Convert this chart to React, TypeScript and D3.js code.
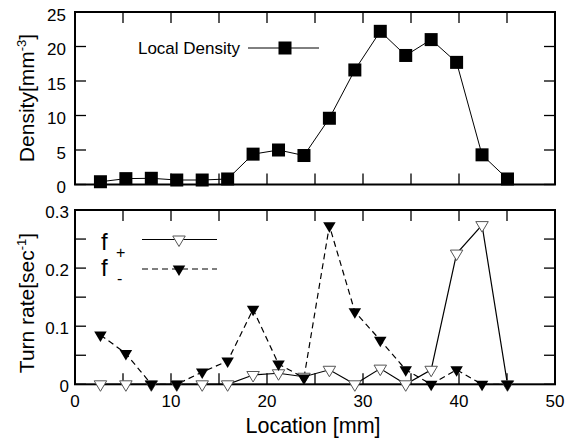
import React from "react";
import * as d3 from "d3";

// Sampling positions along the channel (mm)
const locations = [2.65, 5.3, 7.95, 10.6, 13.25, 15.9, 18.55, 21.2, 23.85, 26.5, 29.15, 31.8, 34.45, 37.1, 39.75, 42.4, 45.05];
// Local density (mm^-3)
const density = [0.4, 0.85, 0.9, 0.65, 0.65, 0.8, 4.4, 5.0, 4.2, 9.6, 16.6, 22.2, 18.7, 21.0, 17.7, 4.3, 0.8];
// Turn rates (sec^-1)
const fPlus = [0, 0, 0, 0, 0, 0, 0.016, 0.019, 0.013, 0.025, 0, 0.027, 0, 0.025, 0.225, 0.274, 0];
const fMinus = [0.085, 0.053, 0, 0, 0.021, 0.04, 0.129, 0.035, 0.011, 0.273, 0.125, 0.076, 0.025, 0, 0.025, 0, 0];

const xTicks = [0, 5, 10, 15, 20, 25, 30, 35, 40, 45, 50];
const xLabels = [0, 10, 20, 30, 40, 50];
const densityTicks = [0, 5, 10, 15, 20, 25];
const rateTicks = [0, 0.05, 0.1, 0.15, 0.2, 0.25, 0.3];
const rateLabels = [0, 0.1, 0.2, 0.3];

const FONT = "'Liberation Sans', Arial, Helvetica, sans-serif";

const x = d3.scaleLinear().domain([0, 50]).range([75, 555]);
const yTop = d3.scaleLinear().domain([0, 25]).range([184.5, 12]);
const yBot = d3.scaleLinear().domain([0, 0.3]).range([384.3, 210]);

const TICK = 11;

function Frame({ y, yTicks }: { y: d3.ScaleLinear<number, number>; yTicks: number[] }) {
  const [y0, y1] = y.range();
  const [x0, x1] = x.range();
  return (
    <g stroke="#000" fill="none">
      {xTicks.map((t) => (
        <g key={"x" + t}>
          <line x1={x(t)} x2={x(t)} y1={y0} y2={y0 - TICK} strokeWidth={1.3} />
          <line x1={x(t)} x2={x(t)} y1={y1} y2={y1 + TICK} strokeWidth={1.3} />
        </g>
      ))}
      {yTicks.map((t) => (
        <g key={"y" + t}>
          <line x1={x0} x2={x0 + TICK} y1={y(t)} y2={y(t)} strokeWidth={1.3} />
          <line x1={x1} x2={x1 - TICK} y1={y(t)} y2={y(t)} strokeWidth={1.3} />
        </g>
      ))}
      <rect x={x0} y={y1} width={x1 - x0} height={y0 - y1} strokeWidth={2} />
    </g>
  );
}

// Triangle pointing down, centred on its centroid
function triDown(cx: number, cy: number, w = 12.5, h = 10.5) {
  const top = cy - h / 3;
  const tip = cy + (2 * h) / 3;
  return `M${cx - w / 2},${top}L${cx + w / 2},${top}L${cx},${tip}Z`;
}

export default function App() {
  const densLine = d3
    .line<number>()
    .x((_, i) => x(locations[i]))
    .y((d) => yTop(d));
  const rateLine = d3
    .line<number>()
    .x((_, i) => x(locations[i]))
    .y((d) => yBot(d));

  const sq = 13;

  return (
    <svg
      width={571}
      height={442}
      style={{ position: "absolute", left: 0, top: 0, background: "#fff" }}
      fontFamily={FONT}
    >
      <rect width={571} height={442} fill="#fff" />

      {/* Upper panel: density */}
      <Frame y={yTop} yTicks={densityTicks} />
      {densityTicks.map((t) => (
        <text key={t} x={66} y={yTop(t) + 8.5} textAnchor="end" fontSize={17}>
          {t}
        </text>
      ))}
      <path d={densLine(density) || ""} fill="none" stroke="#000" strokeWidth={1} />
      {density.map((d, i) => (
        <rect key={i} x={x(locations[i]) - sq / 2} y={yTop(d) - sq / 2} width={sq} height={sq} fill="#000" />
      ))}
      <text x={240} y={54} textAnchor="end" fontSize={17}>
        Local Density
      </text>
      <line x1={248} x2={319} y1={48} y2={48} stroke="#000" strokeWidth={1} />
      <rect x={285 - sq / 2} y={48 - sq / 2} width={sq} height={sq} fill="#000" />
      <text transform="translate(34,98) rotate(-90)" textAnchor="middle" fontSize={21}>
        Density[mm
        <tspan fontSize={13} dy={-8}>-3</tspan>
        <tspan dy={8}>]</tspan>
      </text>

      {/* Lower panel: turn rates */}
      <Frame y={yBot} yTicks={rateTicks} />
      {rateLabels.map((t) => (
        <text key={t} x={69} y={yBot(t) + 8} textAnchor="end" fontSize={17}>
          {t}
        </text>
      ))}
      {xLabels.map((t) => (
        <text key={t} x={x(t)} y={407} textAnchor="middle" fontSize={17}>
          {t}
        </text>
      ))}
      <text x={313} y={433} textAnchor="middle" fontSize={21.5}>
        Location [mm]
      </text>
      <text transform="translate(34,303) rotate(-90)" textAnchor="middle" fontSize={21}>
        Turn rate[sec
        <tspan fontSize={13} dy={-8}>-1</tspan>
        <tspan dy={8}>]</tspan>
      </text>

      <path d={rateLine(fMinus) || ""} fill="none" stroke="#000" strokeWidth={1.2} strokeDasharray="6,4" />
      <path d={rateLine(fPlus) || ""} fill="none" stroke="#000" strokeWidth={1.2} />
      {fPlus.map((d, i) => (
        <path key={"p" + i} d={triDown(x(locations[i]), yBot(d))} fill="#fff" stroke="#555" strokeWidth={1} />
      ))}
      {fMinus.map((d, i) => (
        <path key={"m" + i} d={triDown(x(locations[i]), yBot(d))} fill="#000" />
      ))}

      {/* Legend */}
      <text x={101} y={250} fontSize={24}>f</text>
      <text x={116} y={258} fontSize={16}>+</text>
      <line x1={142} x2={217} y1={239.5} y2={239.5} stroke="#000" strokeWidth={1.2} />
      <path d={triDown(179, 239.5)} fill="#fff" stroke="#555" strokeWidth={1} />
      <text x={101} y={276} fontSize={24}>f</text>
      <text x={117} y={284} fontSize={16}>-</text>
      <line x1={142} x2={217} y1={269} y2={269} stroke="#000" strokeWidth={1.2} strokeDasharray="6,4" />
      <path d={triDown(179, 269)} fill="#000" />
    </svg>
  );
}
